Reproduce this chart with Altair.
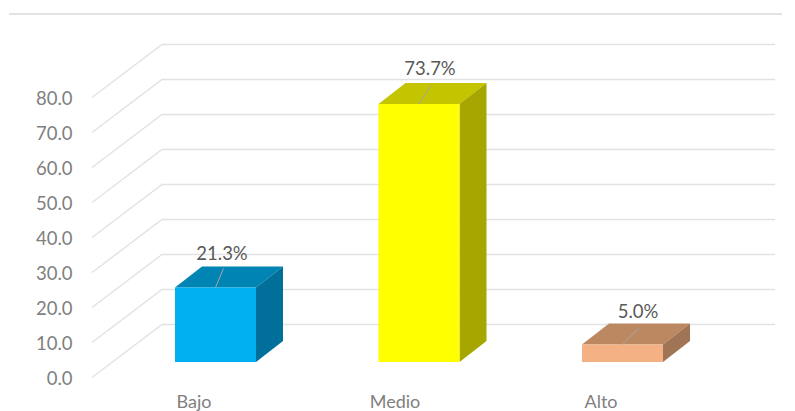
import altair as alt
import pandas as pd

# Survey levels and their percentages
categories = ["Bajo", "Medio", "Alto"]
values = [21.3, 73.7, 5.0]
labels = ["21.3%", "73.7%", "5.0%"]
front_colors = ["#00B0F0", "#FFFF00", "#F4B183"]
top_colors = ["#0084B4", "#C4C400", "#BC8862"]
side_colors = ["#00709A", "#A6A600", "#A07555"]
leader_reach = [8, 12, 16]
leader_rise = [19, 19, 16]
label_shift = [6.5, 11, 15.5]
label_lift = [12, 14, 11]
tick_values = [0, 10, 20, 30, 40, 50, 60, 70, 80]

FONT = "Lato"
W, H = 795, 411
SLOT = 203.5          # pixels per category slot
UNIT = 3.5            # pixels per percentage point
X0 = 12.0             # pixel of slot 0
Y0 = 377.5            # pixel of value 0 on the front edge of the floor


def sx(px):
    return px / SLOT


def sv(px):
    return px / UNIT


# Oblique projection: depth of the chart box and of each bar
BOX_DX, BOX_DV = sx(70), sv(53)
BAR_DX, BAR_DV = sx(27), sv(21)
BAR_W = sx(81)
BAR_BASE = 4.43
WALL_LEFT, WALL_RIGHT = sx(92 - X0), sx(775 - X0)

x_scale = alt.Scale(domain=[-X0 / SLOT, (W - X0) / SLOT], nice=False, zero=False)
y_scale = alt.Scale(domain=[(Y0 - H) / UNIT, Y0 / UNIT], nice=False, zero=False)
y_axis = alt.Axis(
    values=tick_values,
    format=".1f",
    offset=-72,
    domain=False,
    ticks=False,
    grid=False,
    title=None,
    labelFont=FONT,
    labelFontSize=18.5,
    labelColor="#808080",
    labelPadding=0,
    labelOffset=0.5,
)
X = alt.X("x:Q", scale=x_scale, axis=None)
Y = alt.Y("y:Q", scale=y_scale, axis=y_axis)

# Gridlines run up the side wall and then across the back wall
grid_rows = []
for t in tick_values:
    grid_rows += [
        dict(level=t, x=WALL_LEFT, y=t),
        dict(level=t, x=WALL_LEFT + BOX_DX, y=t + BOX_DV),
        dict(level=t, x=WALL_RIGHT, y=t + BOX_DV),
    ]
grid = (
    alt.Chart(pd.DataFrame(grid_rows))
    .mark_line(color="#E2E2E2", strokeWidth=1.4)
    .encode(x=X, y=Y, detail="level:N")
)

# Thin frame line along the top
frame = (
    alt.Chart(pd.DataFrame({"x": [sx(9 - X0), sx(782 - X0)], "y": [sv(Y0 - 14)] * 2}))
    .mark_line(color="#DADADA", strokeWidth=1.4)
    .encode(x=X, y=Y)
)

# Each bar is three faces: front, top and right side
face_rows = []
label_rows = []
leader_rows = []
for i, (cat, v) in enumerate(zip(categories, values)):
    x0 = (215.5 - X0) / SLOT + i - BAR_W / 2
    x1 = x0 + BAR_W
    lo = BAR_BASE
    hi = lo + v
    face_rows += [
        dict(face=f"{cat}-top", color=top_colors[i], x=x0, y=hi, y2=hi),
        dict(face=f"{cat}-top", color=top_colors[i], x=x0 + BAR_DX, y=hi, y2=hi + BAR_DV),
        dict(face=f"{cat}-top", color=top_colors[i], x=x1, y=hi, y2=hi + BAR_DV),
        dict(face=f"{cat}-top", color=top_colors[i], x=x1 + BAR_DX, y=hi + BAR_DV, y2=hi + BAR_DV),
        dict(face=f"{cat}-side", color=side_colors[i], x=x1, y=lo, y2=hi),
        dict(face=f"{cat}-side", color=side_colors[i], x=x1 + BAR_DX, y=lo + BAR_DV, y2=hi + BAR_DV),
        dict(face=f"{cat}-front", color=front_colors[i], x=x0, y=lo, y2=hi),
        dict(face=f"{cat}-front", color=front_colors[i], x=x1, y=lo, y2=hi),
    ]
    cx = (x0 + x1) / 2
    leader_rows += [
        dict(bar=cat, x=cx, y=hi),
        dict(bar=cat, x=cx + sx(leader_reach[i]), y=hi + sv(leader_rise[i])),
    ]
    label_rows.append(
        dict(text=labels[i], x=cx + sx(label_shift[i]), y=hi + BAR_DV + sv(label_lift[i]))
    )

faces = (
    alt.Chart(pd.DataFrame(face_rows))
    .mark_area(orient="vertical", interpolate="linear", opacity=1)
    .encode(
        x=X,
        y=Y,
        y2="y2:Q",
        color=alt.Color("color:N", scale=None),
        detail="face:N",
    )
)

leaders = (
    alt.Chart(pd.DataFrame(leader_rows))
    .mark_line(color="#A6A6A6", strokeWidth=1)
    .encode(x=X, y=Y, detail="bar:N")
)

value_labels = (
    alt.Chart(pd.DataFrame(label_rows))
    .mark_text(font=FONT, fontSize=18.5, color="#595959", baseline="middle")
    .encode(x=X, y=Y, text="text:N")
)

# Category names sit left of their bars, on the lower edge of the page
category_labels = (
    alt.Chart(
        pd.DataFrame(
            {
                "text": categories,
                "x": [sx(194 - X0), sx(395 - X0), sx(601 - X0)],
                "y": [sv(Y0 - 402.5)] * 3,
            }
        )
    )
    .mark_text(font=FONT, fontSize=18, color="#808080", baseline="middle")
    .encode(x=X, y=Y, text="text:N")
)

chart = (
    alt.layer(grid, frame, faces, leaders, value_labels, category_labels)
    .properties(
        width=W,
        height=H,
        padding=0,
        background="#FFFFFF",
        autosize=alt.AutoSizeParams(type="none"),
    )
    .configure_view(stroke=None)
)

chart.save("out.html", embed_options={"renderer": "svg", "actions": False})
